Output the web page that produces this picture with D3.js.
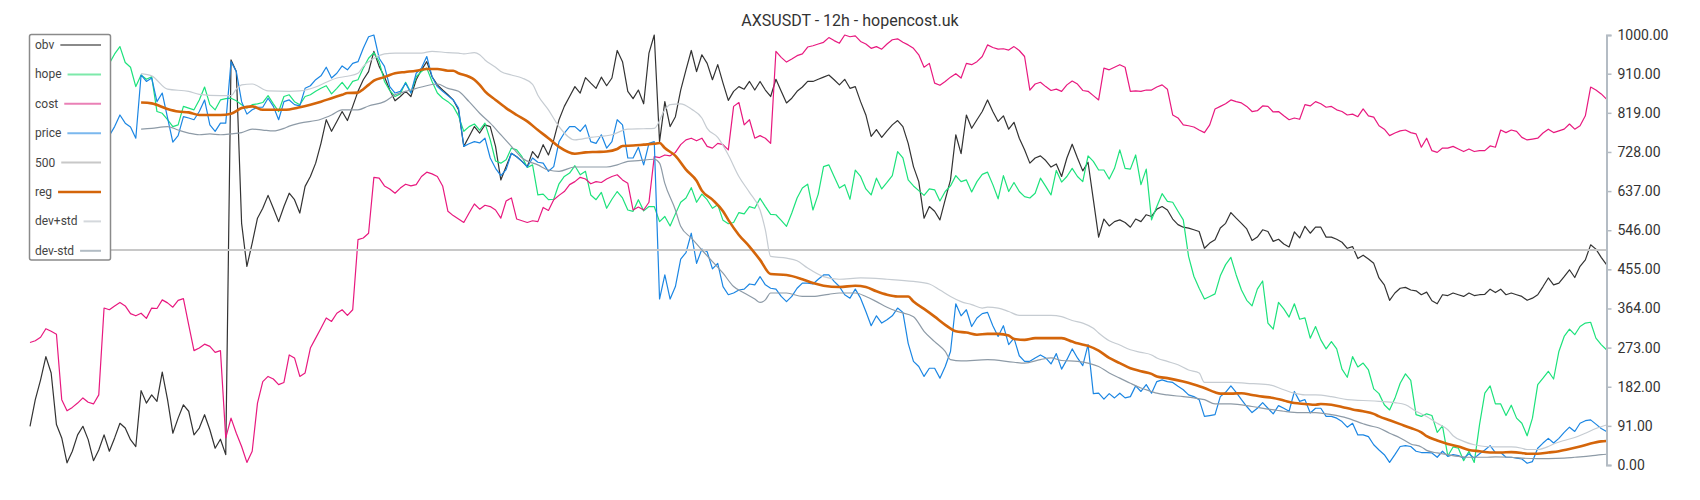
<!DOCTYPE html>
<html><head><meta charset="utf-8">
<script src="https://cdn.jsdelivr.net/npm/d3@7"></script>
<style>body{margin:0;background:#fff;} svg{display:block;font-family:Roboto,"Noto Sans",sans-serif;}</style>
</head><body><svg id="chart" width="1700" height="500"></svg>
<script>
const title = "AXSUSDT - 12h - hopencost.uk";
const yTicks = [0,91,182,273,364,455,546,637,728,819,910,1000];
const legendNames = ["obv","hope","cost","price","500","reg","dev+std","dev-std"];
const level500 = 500;

const obv = [90,152,198,252,214,94,63,5,32,70,
90,59,10,35,70,32,63,97,86,59,
43,173,144,163,148,216,152,74,109,140,
125,70,86,117,82,39,60,24,942,915,
562,462,516,574,597,627,597,566,601,632,
617,586,648,671,702,748,803,776,799,822,
801,834,869,896,915,962,927,903,872,847,
857,869,857,896,919,938,903,884,872,861,
849,826,741,764,787,772,791,787,741,663,
694,725,717,706,694,729,714,745,721,756,
803,834,857,880,865,901,888,876,902,882,
900,964,938,869,852,872,840,958,1000,752,
845,787,810,872,919,964,915,954,934,896,
931,888,848,869,880,874,892,872,892,872,
857,897,869,842,853,869,879,892,892,897,
902,907,896,884,897,876,880,845,814,764,
780,762,777,791,801,787,748,694,659,574,
601,590,570,617,663,768,724,814,783,803,
822,849,822,799,812,781,797,760,733,702,
714,719,708,693,700,671,714,746,714,684,
704,617,530,572,556,566,570,564,553,572,
566,582,578,595,601,593,572,559,553,551,
547,543,504,516,524,551,562,587,574,562,
549,522,530,547,543,520,525,514,507,542,
528,555,539,553,553,530,530,525,518,504,
508,480,488,479,469,435,419,383,400,411,
413,407,405,396,402,382,375,396,394,400,
396,392,400,394,396,397,409,401,409,396,
400,396,392,383,388,396,415,435,419,423,
438,454,436,462,477,512,502,483,466];

const hope = [930,950,965,950,940,915,945,960,950,935,
915,930,945,955,940,934,956,973,936,925,
880,907,897,903,822,818,803,787,791,834,
830,826,849,879,838,826,849,852,853,847,
838,830,838,840,843,859,840,822,857,861,
845,838,857,861,869,876,882,863,876,890,
874,892,896,923,946,959,938,892,871,857,
863,890,866,903,915,923,892,865,853,845,
834,812,776,787,793,779,795,756,707,702,
710,737,733,717,692,698,628,630,617,618,
654,671,679,696,675,683,628,617,634,597,
618,636,621,593,590,617,591,601,601,566,
578,556,584,611,621,645,611,630,617,597,
605,569,561,564,587,584,601,597,620,601,
583,582,569,555,586,621,644,653,593,630,
694,698,671,644,652,618,686,671,642,628,
667,642,657,673,729,714,663,649,638,627,
642,640,614,636,649,673,659,663,635,659,
676,681,652,619,673,636,657,636,624,621,
632,667,648,628,685,658,671,690,671,659,
719,706,686,686,665,690,733,690,688,721,
652,688,570,601,631,613,611,590,570,485,
439,411,386,392,398,440,466,483,442,407,
383,370,409,428,330,316,378,363,344,375,
339,342,295,322,291,270,287,270,223,204,
252,228,237,221,177,166,140,128,155,190,
212,197,117,113,119,115,76,91,21,42,
39,10,32,6,94,167,184,142,142,115,
139,109,97,68,109,187,202,218,200,264,
299,316,303,322,330,332,295,280,268];

const cost = [285,289,297,317,311,304,152,126,134,144,
156,146,142,163,365,361,370,378,370,352,
347,353,341,365,364,384,377,367,383,387,
326,266,272,281,276,262,266,63,109,74,
43,6,32,144,194,206,200,187,192,256,
249,206,214,272,295,318,342,334,353,361,
348,361,524,528,539,669,667,649,642,632,
644,653,649,652,671,681,677,671,649,590,
580,572,564,586,607,595,604,601,593,574,
614,621,572,568,564,568,566,599,592,617,
627,636,652,659,669,665,654,659,657,665,
671,675,663,655,593,600,593,611,717,715,
721,719,727,745,756,760,754,760,741,737,
748,745,733,834,843,791,803,760,766,760,
748,962,948,937,944,952,956,972,975,979,
983,994,987,981,1000,996,998,985,979,969,
973,967,979,989,991,983,977,969,954,925,
934,888,883,892,902,910,900,934,931,938,
950,977,971,967,968,965,973,964,950,872,
886,890,880,871,874,869,884,893,886,871,
869,859,849,923,919,925,931,925,869,870,
869,872,872,879,884,874,814,807,791,789,
786,779,773,791,828,834,840,849,845,842,
834,822,824,835,834,821,822,812,803,807,
804,838,835,845,840,832,834,826,822,814,
816,810,828,812,809,789,781,766,772,777,
779,773,770,739,760,731,727,737,737,741,
735,729,735,729,731,731,742,739,779,773,
779,776,762,756,758,760,772,781,773,777,
781,793,781,789,812,879,872,863,851];

const price = [770,790,810,800,790,765,795,815,805,790,
770,785,800,810,785,766,787,814,795,786,
760,907,892,900,845,865,807,751,766,810,
807,803,822,849,791,776,795,795,938,915,
845,816,826,832,832,853,834,803,845,849,
838,835,876,882,896,905,925,900,911,928,
919,934,938,969,996,1000,946,927,880,865,
869,888,865,911,923,950,903,880,869,859,
849,830,741,747,752,749,760,714,690,673,
687,725,717,706,693,714,704,702,683,694,
752,772,787,787,776,791,752,748,768,737,
752,803,791,714,714,739,698,748,752,386,
442,386,415,479,494,539,469,502,496,456,
469,415,396,400,407,409,421,419,438,419,
411,409,392,380,392,411,423,423,421,432,
442,442,427,415,396,388,409,388,357,324,
347,330,338,347,365,355,283,241,229,206,
225,225,202,229,264,375,347,361,322,342,
352,355,324,299,324,280,295,254,241,241,
249,256,249,235,259,223,245,270,249,231,
280,166,167,153,166,156,167,156,159,184,
171,187,167,194,198,194,192,183,175,163,
159,152,113,115,117,159,169,184,169,152,
136,122,132,145,132,119,138,132,125,171,
148,152,121,132,132,113,113,109,101,88,
97,70,70,66,47,35,24,6,24,43,
45,43,32,29,29,28,18,32,20,24,
22,16,26,16,26,35,45,29,29,18,
18,16,14,4,8,39,51,62,51,62,
76,88,78,97,103,105,95,85,78];

const regIdx = [21,23,26,28,30,32,34,36,38,40,42,44,46,48,51,53,55,57,59,60,62,63,64,65,67,68,69,71,73,75,77,79,80,81,83,84,85,86,88,90,92,94,96,98,100,103,105,107,109,111,112,114,116,118,119,120,122,124,126,127,129,131,132,134,136,138,140,143,146,148,150,153,156,158,160,162,164,166,167,169,171,173,175,177,179,181,183,185,186,188,190,192,195,197,198,200,202,204,206,208,210,212,213,215,218,220,222,224,225,227,229,231,233,235,237,239,241,243,244,246,248,250,252,254,255,257,259,261,263,264,266,268,270,272,274,276,278,280,282,283,285,287,289,291,293,295,297,298];
const reg = [843,841,828,822,820,814,814,814,817,830,834,826,826,826,832,838,845,853,861,865,866,874,884,894,902,907,911,914,917,921,921,917,917,911,903,896,884,869,849,830,814,799,779,760,740,724,727,728,729,735,742,743,745,747,749,737,719,687,661,638,617,590,570,535,508,477,444,442,432,423,417,414,417,414,404,396,392,392,380,363,345,326,311,308,303,305,305,301,293,291,295,295,295,287,283,277,266,249,237,225,218,212,206,202,194,187,179,169,166,166,167,163,159,156,150,144,142,140,142,140,135,129,125,119,113,104,95,86,76,67,57,49,43,35,32,29,29,30,28,26,26,29,32,37,43,50,55,56];

const devPlusIdx = [21,23,26,30,32,36,38,39,40,42,45,49,51,54,56,58,60,62,63,65,67,69,72,74,76,79,81,82,84,85,86,88,89,91,93,95,96,98,100,103,106,110,113,116,118,120,121,123,125,127,128,130,132,134,136,138,139,140,143,145,147,150,153,157,162,167,170,172,174,176,178,180,181,183,185,187,193,195,197,199,201,202,204,206,208,210,212,213,215,217,219,221,222,227,230,234,237,239,241,243,246,249,252,255,258,260,262,264,266,268,269,271,273,275,277,280,282,283,285,287,288,290,292,294,296,298];
const devPlus = [910,905,874,869,862,859,859,874,884,886,870,869,870,879,890,900,904,911,927,946,956,958,958,958,962,959,958,956,959,954,942,925,915,907,900,885,860,826,787,756,762,768,781,782,783,826,838,840,828,807,783,762,721,671,634,593,547,485,481,475,458,438,432,435,432,427,421,407,392,380,373,365,367,365,357,348,348,345,336,330,318,307,289,279,268,262,256,249,241,233,221,214,192,192,190,187,175,167,163,163,159,152,150,148,145,140,125,113,97,82,68,55,47,43,42,42,39,36,36,43,49,57,64,74,85,93];

const devMinusIdx = [21,23,26,28,30,32,34,36,38,40,42,44,46,48,49,51,55,57,59,62,64,67,69,72,74,77,79,81,83,85,87,89,91,93,96,98,100,103,106,109,111,113,115,118,119,120,122,123,125,127,129,131,133,135,137,138,139,140,143,146,148,151,153,156,158,160,162,164,167,169,171,173,174,176,181,186,188,191,193,195,198,200,202,204,206,208,210,212,213,215,218,220,222,224,227,231,234,237,240,243,246,249,252,253,255,257,259,261,263,264,266,268,270,272,275,277,280,282,285,287,290,292,295,297,298];
const devMinus = [781,783,787,779,772,768,770,768,770,773,781,779,777,783,788,795,804,814,826,826,835,845,861,872,879,886,876,869,845,818,795,768,741,714,698,686,683,693,693,693,698,706,708,711,702,655,593,555,528,500,473,446,415,400,386,378,384,400,400,392,392,397,400,400,392,380,367,357,345,311,287,264,245,242,245,239,237,245,249,243,241,237,229,214,202,190,179,171,167,163,159,156,152,142,142,136,130,125,122,122,117,109,96,92,86,74,63,49,42,34,28,24,20,18,18,19,18,16,15,15,16,18,21,24,25];

const colors = {obv:"#333333", hope:"#1de27c", cost:"#e8197f", price:"#1b86e3", l500:"#c8c8c8", reg:"#d4650a", devPlus:"#c6ccd2", devMinus:"#8e9ba7"};
const legendColors = ["#8a8a8a","#7de9aa","#ea80b6","#7bb8ee","#c8c8c8","#d4650a","#d4d8dc","#b2bcc4"];

const svg = d3.select("#chart");
const N = obv.length;
const x = d3.scaleLinear().domain([0, N - 1]).range([30, 1606.5]);
const y = d3.scaleLinear().domain([0, 1000]).range([465, 35]);

const full = arr => arr.map((v, i) => [i, v]);
const keyed = (idx, vals) => idx.slice(0, Math.min(idx.length, vals.length)).map((k, i) => [k, vals[i]]);
const lineStraight = d3.line().x(d => x(d[0])).y(d => y(d[1]));
const lineSmooth = d3.line().x(d => x(d[0])).y(d => y(d[1])).curve(d3.curveMonotoneX);

const g = svg.append("g");
function draw(data, gen, color, w) {
  g.append("path").datum(data).attr("d", gen).attr("fill", "none")
   .attr("stroke", color).attr("stroke-width", w).attr("stroke-linejoin", "round");
}
draw(full(obv), lineStraight, colors.obv, 1.2);
draw(full(hope), lineStraight, colors.hope, 1.2);
draw(full(cost), lineStraight, colors.cost, 1.2);
draw(full(price), lineStraight, colors.price, 1.2);
draw([[0, level500], [N - 1, level500]], lineStraight, colors.l500, 2);
draw(keyed(regIdx, reg), lineSmooth, colors.reg, 2.6);
draw(keyed(devPlusIdx, devPlus), lineSmooth, colors.devPlus, 1.2);
draw(keyed(devMinusIdx, devMinus), lineSmooth, colors.devMinus, 1.2);

// axis
const ax = svg.append("g").attr("transform", "translate(1606.5,0)")
  .call(d3.axisRight(y).tickValues(yTicks).tickFormat(d3.format(".2f")).tickSize(5).tickPadding(6));
ax.select(".domain").attr("stroke", "#b4bcc4").attr("stroke-width", 2);
ax.selectAll(".tick line").attr("stroke", "#b4bcc4").attr("stroke-width", 1.5);
ax.selectAll(".tick text").attr("fill", "#333").attr("font-size", 14).attr("font-family", "Roboto");

// title
svg.append("text").attr("x", 850).attr("y", 20).attr("text-anchor", "middle")
  .attr("dominant-baseline", "central").attr("font-size", 16).attr("fill", "#333").text(title);

// legend
const lg = svg.append("g");
lg.append("rect").attr("x", 29.5).attr("y", 34.5).attr("width", 81).attr("height", 225.5)
  .attr("rx", 2).attr("fill", "#fff").attr("stroke", "#8a8a8a").attr("stroke-width", 1.5);
legendNames.forEach((name, i) => {
  const yy = 45 + i * 29.4;
  const t = lg.append("text").attr("x", 35).attr("y", yy).attr("dominant-baseline", "central")
    .attr("font-size", 12).attr("fill", "#444").text(name);
  const tw = t.node().getComputedTextLength();
  lg.append("line").attr("x1", 35 + tw + 6).attr("x2", 101).attr("y1", yy).attr("y2", yy)
    .attr("stroke", legendColors[i]).attr("stroke-width", name === "reg" ? 2.6 : 2);
});
</script></body></html>
